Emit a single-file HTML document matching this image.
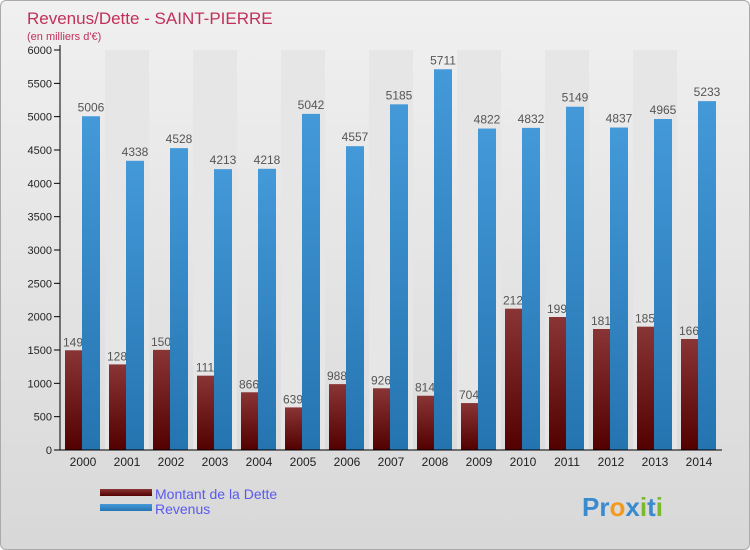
<!DOCTYPE html>
<html><head><meta charset="utf-8"><style>
body{margin:0;background:#fff;font-family:"Liberation Sans",sans-serif}
#wrap{position:relative;width:748px;height:548px;border:1px solid #aaa;border-radius:6px;background:linear-gradient(#f0f0f0,#d8d8d8);overflow:hidden}
</style></head><body>
<div id="wrap">
<svg id="c" width="750" height="550" style="position:absolute;left:-1px;top:-1px">
<defs>
<linearGradient id="gd" x1="0" y1="0" x2="0" y2="1"><stop offset="0" stop-color="#8a3535"/><stop offset="1" stop-color="#520000"/></linearGradient>
<linearGradient id="gr" x1="0" y1="0" x2="0" y2="1"><stop offset="0" stop-color="#4499d8"/><stop offset="1" stop-color="#2474b0"/></linearGradient>
</defs>
<text x="27" y="24" font-size="17" fill="#c0305a">Revenus/Dette - SAINT-PIERRE</text>
<text x="27" y="40" font-size="11" fill="#c0305a">(en milliers d'€)</text>
<g id="g"></g>
<rect x="100" y="489" width="52" height="7" fill="url(#gd)"/>
<rect x="100" y="504" width="52" height="7" fill="url(#gr)"/>
<text x="155" y="499" font-size="14" fill="#5a5aee">Montant de la Dette</text>
<text x="155" y="514" font-size="14" fill="#5a5aee">Revenus</text>
<text x="582" y="516" font-size="26" font-weight="bold" fill="#3a8ad0">Pr<tspan fill="#f39a1e">o</tspan>x<tspan fill="#7ab82e">i</tspan>t<tspan fill="#7ab82e">i</tspan></text>
</svg>
</div>
<script>
const years=["2000","2001","2002","2003","2004","2005","2006","2007","2008","2009","2010","2011","2012","2013","2014"];
const dette=[1496,1284,1502,1115,866,639,988,926,814,704,2120,1995,1815,1850,1665];
const revenus=[5006,4338,4528,4213,4218,5042,4557,5185,5711,4822,4832,5149,4837,4965,5233];
const ticks=[0,500,1000,1500,2000,2500,3000,3500,4000,4500,5000,5500,6000];
const detteLabels=["149","128","150","111","866","639","988","926","814","704","212","199","181","185","166"];
const NS="http://www.w3.org/2000/svg";
const g=document.getElementById('g');
const y0=450,yTop=50,vmax=6000,x0=61,gw=44;
const Y=v=>y0-(v/vmax)*(y0-yTop);
const X=i=>x0+i*gw;
function mk(t,a,p){const e=document.createElementNS(NS,t);for(const k in a)e.setAttribute(k,a[k]);(p||g).appendChild(e);return e;}
years.forEach((y,i)=>{if(i%2==1){const r=mk('rect',{x:X(i),y:yTop,width:gw,height:y0-yTop,fill:'#e6e6e6'});

}});
ticks.forEach(t=>{const l=mk('line',{x1:54,x2:60,y1:Y(t),y2:Y(t),stroke:'#000'});


const tx=mk('text',{x:52,y:Y(t)+4,'font-size':11,'text-anchor':'end',fill:'#222'});tx.textContent=t;

});
years.forEach((y,i)=>{
const b=mk('rect',{x:X(i)+4,y:Y(dette[i]),width:17,height:y0-Y(dette[i]),fill:'url(#gd)'});


const t=mk('text',{x:X(i)+12,y:Y(dette[i])-4,'font-size':12,'text-anchor':'middle',fill:'#555'});t.textContent=detteLabels[i];


const r=mk('rect',{x:X(i)+21,y:Y(revenus[i]),width:18,height:y0-Y(revenus[i]),fill:'url(#gr)'});


const t2=mk('text',{x:X(i)+30,y:Y(revenus[i])-5,'font-size':12,'text-anchor':'middle',fill:'#555'});t2.textContent=revenus[i];


const xt=mk('text',{x:X(i)+22,y:466,'font-size':12,'text-anchor':'middle',fill:'#222'});xt.textContent=y;


});
const ax=mk('line',{x1:60,x2:60,y1:45,y2:450,stroke:'#000'});


const axx=mk('line',{x1:60,x2:722,y1:450,y2:450,stroke:'#000'});


</script>
</body></html>
